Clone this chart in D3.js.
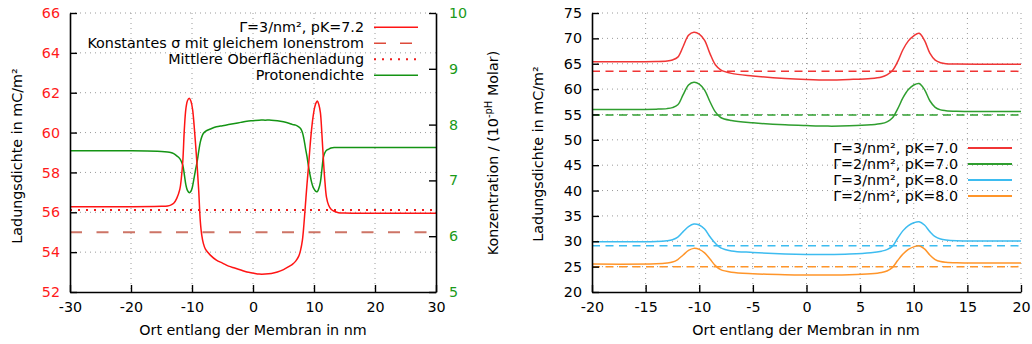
<!DOCTYPE html>
<html><head><meta charset="utf-8">
<script src="https://cdn.jsdelivr.net/npm/d3@7"></script>
<style>
body{margin:0;background:#fff;}
svg{display:block;font-family:"DejaVu Sans",sans-serif;}
</style></head>
<body>
<svg id="c" width="1032" height="344"></svg>
<script>
// ---------- Left panel data ----------
const xLeft = [-30,-20,-15,-14,-13.5,-13,-12.5,-12,-11.75,-11.5,-11.25,-11,-10.75,-10.45,-10.15,-9.9,-9.65,-9.4,-9.15,-8.9,-8.65,-8.4,-8.15,-7.8,-7,-6,-5,-4,-3,-2,-1,0,1,2,3,4,5,6,6.5,7,7.5,7.8,8.1,8.35,8.6,8.85,9.1,9.35,9.6,9.85,10.1,10.35,10.55,10.8,11.05,11.3,11.55,11.8,12.05,12.4,12.8,13.3,14,15,20,30];
const sigmaG3pK72 = [56.28,56.28,56.30,56.32,56.36,56.45,56.7,57.15,57.7,58.6,60.2,61.2,61.6,61.72,61.55,61.15,60.35,59.35,58.3,57.1,55.6,54.85,54.45,54.15,53.85,53.6,53.45,53.3,53.2,53.1,53.0,52.95,52.9,52.9,52.93,53.0,53.12,53.3,53.4,53.55,53.8,54.1,54.6,55.4,56.4,57.4,58.3,59.3,60.15,60.8,61.25,61.5,61.58,61.4,61.0,59.9,58.6,57.5,56.75,56.35,56.15,56.05,55.98,55.96,55.95,55.95];
const protonDensity = [7.53,7.53,7.52,7.51,7.5,7.48,7.44,7.39,7.34,7.27,7.1,6.92,6.82,6.78,6.81,6.9,7.05,7.2,7.34,7.52,7.68,7.78,7.84,7.88,7.92,7.96,7.98,8.0,8.02,8.04,8.06,8.07,8.08,8.08,8.08,8.07,8.05,8.02,8.0,7.99,7.96,7.93,7.86,7.74,7.58,7.43,7.25,7.1,6.97,6.88,6.83,6.8,6.8,6.86,6.97,7.2,7.42,7.5,7.54,7.56,7.58,7.59,7.59,7.59,7.59,7.59];
const constSigmaLeft = 55.0;
const meanSurfaceCharge = 56.12;
const leftXTicks = [-30,-20,-10,0,10,20,30];
const leftYTicks = [52,54,56,58,60,62,64,66];
const leftY2Ticks = [5,6,7,8,9,10];
const leftLegend = ["Γ=3/nm², pK=7.2","Konstantes σ mit gleichem Ionenstrom","Mittlere Oberflächenladung","Protonendichte"];

// ---------- Right panel data ----------
const xRight = [-20,-14,-13,-12.5,-12,-11.5,-11,-10.5,-10,-9.5,-9,-8.5,-8,-7,-5,-2,0,2,4,6,7,7.5,8,8.5,9,9.5,10,10.5,11,11.5,12,12.5,13,14,16,20];
const g3pK70 = [65.4,65.45,65.55,65.75,66.3,68.4,70.6,71.2,70.85,69.6,67.0,64.8,63.8,63.1,62.6,62.1,61.9,61.8,61.9,62.1,62.4,62.8,63.6,65.4,67.8,69.5,70.5,71.0,69.6,67.1,65.7,65.2,65.0,64.95,64.9,64.9];
const g2pK70 = [56.0,56.05,56.15,56.35,56.9,58.9,60.8,61.35,61.0,59.8,57.5,55.5,54.4,53.8,53.35,52.95,52.8,52.7,52.75,52.95,53.2,53.55,54.3,56.1,58.3,59.9,60.8,61.1,59.9,57.7,56.4,55.9,55.75,55.65,55.6,55.6];
const g3pK80 = [29.9,29.95,30.1,30.3,30.8,31.9,32.9,33.4,33.2,32.4,30.9,29.6,28.7,28.1,27.8,27.5,27.4,27.4,27.5,27.75,28.05,28.35,29.0,30.6,32.1,33.1,33.65,33.85,33.2,31.9,30.9,30.45,30.25,30.1,30.05,30.05];
const g2pK80 = [25.5,25.55,25.7,25.9,26.4,27.3,28.2,28.6,28.4,27.7,26.5,25.2,24.4,23.9,23.6,23.4,23.35,23.35,23.4,23.6,23.85,24.15,24.8,26.2,27.5,28.4,28.9,29.1,28.5,27.3,26.4,26.0,25.85,25.75,25.7,25.7];
const constSigmaRight = [63.5,54.9,29.1,25.0];
const rightLabels = ["Γ=3/nm², pK=7.0","Γ=2/nm², pK=7.0","Γ=3/nm², pK=8.0","Γ=2/nm², pK=8.0"];
const rightColors = ["#f03535","#2f9e2f","#3dbcf0","#ff952a"];
const rightXTicks = [-20,-15,-10,-5,0,5,10,15,20];
const rightYTicks = [20,25,30,35,40,45,50,55,60,65,70,75];

// ---------- Drawing ----------
const svg = d3.select("#c");
const FS = 14.3;
const fmt = d => String(d);
const gridStyle = s => s.attr("stroke","#9a9a9a").attr("stroke-width",1).attr("stroke-dasharray","1,4");

// scales
const xL = d3.scaleLinear([-30,30],[70,436]);
const yL = d3.scaleLinear([52,66],[292,13]);
const yL2 = d3.scaleLinear([5,10],[292,13]);
const xR = d3.scaleLinear([-20,20],[592,1021]);
const yR = d3.scaleLinear([20,75],[292,13]);

svg.append("defs").append("clipPath").attr("id","clipL").append("rect")
  .attr("x",70).attr("y",13).attr("width",366).attr("height",279);
svg.select("defs").append("clipPath").attr("id","clipR").append("rect")
  .attr("x",592).attr("y",13).attr("width",429).attr("height",279);

// LEFT grid
const gL = svg.append("g");
leftXTicks.filter(v=>v>-30&&v<30).forEach(v=>{
  gL.append("line").attr("x1",xL(v)).attr("x2",xL(v)).attr("y1",13).attr("y2",292).call(gridStyle);
});
leftYTicks.filter(v=>v>52).forEach(v=>{
  gL.append("line").attr("x1",70).attr("x2",436).attr("y1",yL(v)).attr("y2",yL(v)).call(gridStyle);
});
// RIGHT grid
const gR = svg.append("g");
rightXTicks.filter(v=>v>-20).forEach(v=>{
  gR.append("line").attr("x1",xR(v)).attr("x2",xR(v)).attr("y1",13).attr("y2",292).call(gridStyle);
});
rightYTicks.filter(v=>v>20).forEach(v=>{
  gR.append("line").attr("x1",592).attr("x2",1021).attr("y1",yR(v)).attr("y2",yR(v)).call(gridStyle);
});

// LEFT curves
const plotL = svg.append("g").attr("clip-path","url(#clipL)");
plotL.append("line").attr("x1",xL(-30)).attr("x2",xL(30)).attr("y1",yL(constSigmaLeft)).attr("y2",yL(constSigmaLeft))
  .attr("stroke","#cd7466").attr("stroke-width",2).attr("stroke-dasharray","12,14.5");
plotL.append("line").attr("x1",xL(-30)).attr("x2",xL(30)).attr("y1",yL(meanSurfaceCharge)).attr("y2",yL(meanSurfaceCharge))
  .attr("stroke","#ee1c1c").attr("stroke-width",2).attr("stroke-dasharray","2,6");
const lineRed = d3.line().x((d,i)=>xL(xLeft[i])).y(d=>yL(d)).curve(d3.curveCatmullRom.alpha(0.5));
const lineGreen = d3.line().x((d,i)=>xL(xLeft[i])).y(d=>yL2(d)).curve(d3.curveCatmullRom.alpha(0.5));
plotL.append("path").attr("d",lineGreen(protonDensity)).attr("fill","none").attr("stroke","#149414").attr("stroke-width",1.5);
plotL.append("path").attr("d",lineRed(sigmaG3pK72)).attr("fill","none").attr("stroke","#ff1414").attr("stroke-width",1.5);

// RIGHT curves
const plotR = svg.append("g").attr("clip-path","url(#clipR)");
[g3pK70,g2pK70,g3pK80,g2pK80].forEach((s,k)=>{
  plotR.append("line").attr("x1",xR(-20)).attr("x2",xR(20)).attr("y1",yR(constSigmaRight[k])).attr("y2",yR(constSigmaRight[k]))
    .attr("stroke",rightColors[k]).attr("stroke-width",1.5).attr("stroke-dasharray","8,5.5");
});
[g3pK70,g2pK70,g3pK80,g2pK80].forEach((s,k)=>{
  const ln = d3.line().x((d,i)=>xR(xRight[i])).y(d=>yR(d)).curve(d3.curveCatmullRom.alpha(0.5));
  plotR.append("path").attr("d",ln(s)).attr("fill","none").attr("stroke",rightColors[k]).attr("stroke-width",1.5);
});

// AXES
function styleAxis(g,color){
  g.select(".domain").attr("stroke","#000").attr("stroke-width",1.6);
  g.selectAll(".tick line").attr("stroke","#000").attr("stroke-width",1.4);
  g.selectAll(".tick text").attr("fill",color).attr("font-size",FS).attr("font-family","DejaVu Sans");
}
svg.append("g").attr("transform","translate(0,292)")
  .call(d3.axisBottom(xL).tickValues(leftXTicks).tickFormat(fmt).tickSize(-7).tickSizeOuter(0).tickPadding(10))
  .call(g=>styleAxis(g,"#000"));
svg.append("g").attr("transform","translate(70,0)")
  .call(d3.axisLeft(yL).tickValues(leftYTicks).tickFormat(fmt).tickSize(-7).tickSizeOuter(0).tickPadding(10))
  .call(g=>styleAxis(g,"#ff1a1a"));
svg.append("g").attr("transform","translate(436,0)")
  .call(d3.axisRight(yL2).tickValues(leftY2Ticks).tickFormat(fmt).tickSize(-7).tickSizeOuter(0).tickPadding(13))
  .call(g=>styleAxis(g,"#1a9a1a"));
svg.append("g").attr("transform","translate(0,292)")
  .call(d3.axisBottom(xR).tickValues(rightXTicks).tickFormat(fmt).tickSize(-7).tickSizeOuter(0).tickPadding(10))
  .call(g=>styleAxis(g,"#000"));
svg.append("g").attr("transform","translate(592,0)")
  .call(d3.axisLeft(yR).tickValues(rightYTicks).tickFormat(fmt).tickSize(-7).tickSizeOuter(0).tickPadding(10))
  .call(g=>styleAxis(g,"#000"));

// Axis titles
svg.append("text").attr("x",253).attr("y",335).attr("text-anchor","middle").attr("font-size",FS).text("Ort entlang der Membran in nm");
svg.append("text").attr("x",806).attr("y",335).attr("text-anchor","middle").attr("font-size",FS).text("Ort entlang der Membran in nm");
svg.append("text").attr("transform","translate(22,156) rotate(-90)").attr("text-anchor","middle").attr("font-size",FS).text("Ladungsdichte in mC/m²");
svg.append("text").attr("transform","translate(543,154) rotate(-90)").attr("text-anchor","middle").attr("font-size",FS).text("Ladungsdichte in mC/m²");
const kt = svg.append("text").attr("transform","translate(498,153) rotate(-90)").attr("text-anchor","middle").attr("font-size",FS);
kt.append("tspan").text("Konzentration / (10");
kt.append("tspan").attr("font-size",10).attr("dy",-6).text("-pH");
kt.append("tspan").attr("dy",6).text(" Molar)");

// Left legend
const legLY = [27.3,43.3,59.3,75.3];
leftLegend.forEach((t,i)=>{
  svg.append("text").attr("x",364).attr("y",legLY[i]+5).attr("text-anchor","end").attr("font-size",FS).text(t);
});
svg.append("line").attr("x1",374).attr("x2",418).attr("y1",legLY[0]).attr("y2",legLY[0]).attr("stroke","#ff1414").attr("stroke-width",1.5);
svg.append("line").attr("x1",374).attr("x2",418).attr("y1",legLY[1]).attr("y2",legLY[1]).attr("stroke","#dd4a3a").attr("stroke-width",1.5).attr("stroke-dasharray","12,14");
svg.append("line").attr("x1",374).attr("x2",418).attr("y1",legLY[2]).attr("y2",legLY[2]).attr("stroke","#ee1c1c").attr("stroke-width",2).attr("stroke-dasharray","2,6");
svg.append("line").attr("x1",374).attr("x2",418).attr("y1",legLY[3]).attr("y2",legLY[3]).attr("stroke","#149414").attr("stroke-width",1.5);

// Right legend
const legRY = [148,164,180,196];
rightLabels.forEach((t,i)=>{
  svg.append("text").attr("x",958).attr("y",legRY[i]+5).attr("text-anchor","end").attr("font-size",FS).text(t);
  svg.append("line").attr("x1",968).attr("x2",1012).attr("y1",legRY[i]).attr("y2",legRY[i]).attr("stroke",rightColors[i]).attr("stroke-width",2);
});
</script>
</body></html>
